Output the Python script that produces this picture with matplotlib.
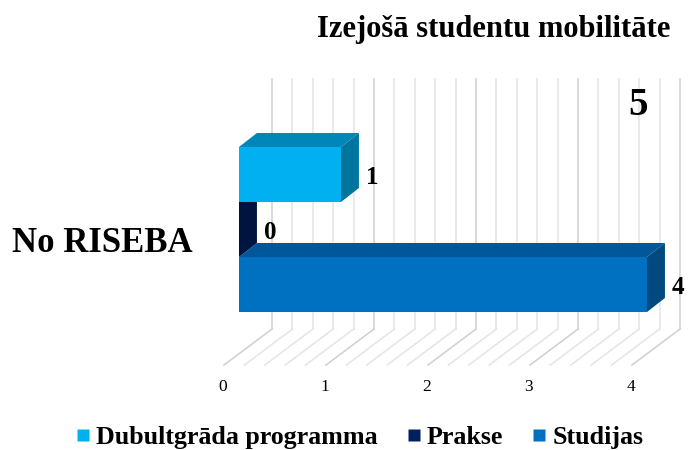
import matplotlib
matplotlib.use('Agg')
import matplotlib.pyplot as plt
from matplotlib.patches import Polygon
from matplotlib.lines import Line2D
import numpy as np

# Data
category = 'No RISEBA'
series = ['Studijas', 'Prakse', 'Dubultgrāda programma']
values = [4, 0, 1]
front_colors = ['#0070C0', '#002060', '#00B0F0']
top_colors = ['#00589A', '#00184A', '#0086B8']
side_colors = ['#004A80', '#001440', '#00759E']
ticks = [0, 1, 2, 3, 4]

plt.rcParams['font.family'] = ['Liberation Serif', 'DejaVu Serif']

fig = plt.figure(figsize=(6.88, 4.5), dpi=100)
ax = fig.add_axes([0, 0, 1, 1])
ax.set_xlim(-2.343, 4.402)
ax.set_ylim(-2.509, 5.673)
ax.axis('off')

# 3D geometry (in data units)
bar_dx, bar_dy = 0.176, 0.255
wall_dx = 0.324
wall_bottom, wall_top = -0.309, 4.236
floor_dx, floor_bottom = -0.471, -0.964

# Back wall + floor grid
for g in np.arange(0, 4.001, 0.2):
    major = abs(g - round(g)) < 1e-6
    col = '#D2D2D2' if major else '#E6E6E6'
    xb = g + wall_dx
    ax.plot([xb, xb], [wall_bottom, wall_top], color=col, lw=1.2, zorder=1)
    ax.plot([xb, xb + floor_dx], [wall_bottom, floor_bottom], color=col, lw=1.2, zorder=1)

# Bars (bottom to top)
for i, (v, fc, tc, sc) in enumerate(zip(values, front_colors, top_colors, side_colors)):
    z = 2 + i
    ax.barh(i, v, height=1, left=0, align='edge', color=fc, zorder=z)
    top = Polygon([(0, i + 1), (v, i + 1), (v + bar_dx, i + 1 + bar_dy), (bar_dx, i + 1 + bar_dy)],
                  closed=True, facecolor=tc, edgecolor='none', zorder=z)
    side = Polygon([(v, i), (v + bar_dx, i + bar_dy), (v + bar_dx, i + 1 + bar_dy), (v, i + 1)],
                   closed=True, facecolor=sc, edgecolor='none', zorder=z)
    ax.add_patch(top)
    ax.add_patch(side)
    ax.text(v + bar_dx + 0.065, i + 0.44, str(v), ha='left', va='center',
            fontsize=18, fontweight='bold', zorder=10)

# Total label
ax.text(3.91, 3.76, str(sum(values)), ha='center', va='center', fontsize=28, fontweight='bold')

# Tick labels
for t in ticks:
    ax.text(t + wall_dx + floor_dx - 0.01, -1.36, str(t), ha='center', va='center', fontsize=12.5)

# Category label
fig.text(12 / 688, 1 - 243 / 450, category, ha='left', va='center', fontsize=25, fontweight='bold')

# Title
fig.text(670 / 688, 1 - 30 / 450, 'Izejošā studentu mobilitāte', ha='right', va='center',
         fontsize=22, fontweight='bold')

# Legend
order = [2, 1, 0]
handles = [Line2D([], [], marker='s', linestyle='none', markersize=8,
                  markerfacecolor=front_colors[k], markeredgecolor='none') for k in order]
fig.legend(handles, [series[k] for k in order], loc='center', bbox_to_anchor=(359 / 688, 1 - 437 / 450),
           ncol=3, frameon=False, prop={'size': 18.7, 'weight': 'bold'},
           handlelength=0.6, handletextpad=0.2, columnspacing=1.1, borderaxespad=0)

fig.savefig('out.png', dpi=100)
